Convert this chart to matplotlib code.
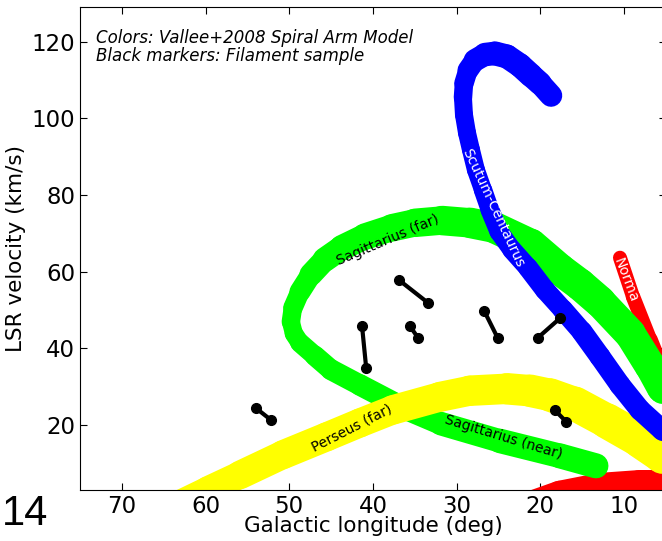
import matplotlib
matplotlib.use("Agg")
import matplotlib.pyplot as plt
from matplotlib.collections import LineCollection

# spiral arm tracks (longitude deg, LSR velocity km/s)
ScutumL = [18.72, 20.04, 21.12, 22.43, 23.98, 25.42, 26.61, 27.81, 28.64, 29.12, 29.24, 29.12, 28.76, 28.29,
           27.69, 26.85, 26.02, 24.94, 23.39, 21.47, 19.44, 17.29, 15.02, 12.87, 10.48, 8.09, 5.46, 2.11]
ScutumV = [105.9, 109.1, 111.2, 113.8, 116.1, 116.9, 116.6, 115.1, 112.5, 109.1, 105.4, 100.9, 96.2, 91.8,
           86.5, 81.3, 76.1, 70.4, 65.7, 61.0, 55.2, 50.0, 44.3, 37.8, 30.4, 23.9, 18.7, 13.0]

SagittariusL = [0.92, 5.46, 6.89, 9.28, 12.87, 15.26, 17.65, 21.12, 25.42, 28.41, 31.75, 34.98, 37.73, 40.96, 43.70,
                45.74, 47.41, 48.72, 49.56, 49.80, 49.44, 48.72, 46.93, 45.02, 41.55, 36.29, 31.87, 24.82, 17.65, 13.35]
SagittariusV = [16.1, 29.7, 35.4, 43.8, 52.1, 56.6, 60.5, 67.0, 71.4, 72.7, 73.3, 72.7, 71.4, 69.1, 66.2,
                63.1, 59.2, 54.7, 50.5, 46.9, 43.8, 41.4, 38.0, 34.4, 30.4, 24.4, 20.3, 15.8, 11.9, 9.3]

PerseusL = [63.42, 59.72, 55.89, 50.75, 45.50, 41.55, 37.61, 31.99, 28.41, 23.98, 21.23, 18.84, 15.86, 12.03, 8.09, 5.46, 2.11]
PerseusV = [-0.9, 3.0, 6.9, 12.2, 16.9, 20.5, 23.9, 27.3, 28.9, 29.4, 28.9, 27.8, 25.5, 21.0, 16.1, 12.2, 6.9]

NormaL = [10.48, 8.92, 6.89, 5.22, 2.11]
NormaV = [63.6, 53.4, 42.2, 33.1, 16.1]

InnerL = [22.43, 17.65, 12.87, 8.09, 3.3]
InnerV = [-2.2, 1.5, 3.55, 4.3, 4.3]

# filament sample: start and end of each filament
FilamentL = [(54.0, 52.2), (36.9, 33.4), (41.3, 40.8), (35.6, 34.6), (26.7, 25.1), (20.3, 17.6), (18.3, 16.9)]
FilamentV = [(24.4, 21.3), (57.8, 51.8), (45.8, 34.8), (45.8, 42.7), (49.7, 42.7), (42.7, 47.9), (23.9, 20.8)]


def DrawArm(ax, l, v, widths, color):
    """Draw an arm as a band whose width (in pixels) changes along its length."""
    points = list(zip(l, v))
    segments = [[points[i], points[i + 1]] for i in range(len(points) - 1)]
    lw = [0.72 * (widths[i] + widths[i + 1]) / 2 for i in range(len(points) - 1)]
    band = LineCollection(segments, colors=color, linewidths=lw, capstyle="round", joinstyle="round")
    ax.add_collection(band)


Figure = plt.figure(figsize=(6.62, 5.41), dpi=100)
ax = Figure.add_axes([0.1208, 0.0943, 0.885, 0.8927])

DrawArm(ax, InnerL, InnerV, [30] * len(InnerL), "#ff0000")
DrawArm(ax, NormaL, NormaV, [14, 14, 15, 16, 17], "#ff0000")
DrawArm(ax, SagittariusL, SagittariusV,
        [30, 30, 31, 31, 32, 32, 32, 32, 31, 30, 29, 28, 27, 26, 25,
         24, 22, 20, 19, 18, 18, 19, 20, 21, 21, 22, 23, 24, 25, 25], "#00ff00")
DrawArm(ax, PerseusL, PerseusV, [27, 27, 28, 29, 29, 29, 29, 30, 30, 31, 32, 33, 34, 35, 36, 37, 37], "#ffff00")
DrawArm(ax, ScutumL, ScutumV,
        [22, 23, 24, 24, 24, 24, 23, 22, 20, 19, 18, 18, 18, 18,
         18, 18, 19, 19, 19, 20, 20, 20, 21, 21, 21, 21, 21, 21], "#0000ff")

for l, v in zip(FilamentL, FilamentV):
    ax.plot(l, v, color="black", lw=3, marker="o", markersize=7)

ax.text(38.2, 68.2, "Sagittarius (far)", rotation=23, fontsize=10, ha="center", va="center")
ax.text(42.5, 19.2, "Perseus (far)", rotation=27, fontsize=10, ha="center", va="center")
ax.text(24.4, 16.9, "Sagittarius (near)", rotation=-17, fontsize=10, ha="center", va="center")
ax.text(25.7, 76.5, "Scutum-Centaurus", rotation=-65, fontsize=10, color="white", ha="center", va="center")
ax.text(9.8, 57.8, "Norma", rotation=-69, fontsize=10, color="white", ha="center", va="center")

ax.text(0.027, 0.955, "Colors: Vallee+2008 Spiral Arm Model\nBlack markers: Filament sample",
        transform=ax.transAxes, fontsize=12, style="italic", va="top", ha="left", linespacing=1.0)

ax.set_xlim(75, 5)
ax.set_ylim(3, 129)
ax.set_xticks([70, 60, 50, 40, 30, 20, 10])
ax.set_yticks([20, 40, 60, 80, 100, 120])
ax.tick_params(direction="in", top=True, right=True, labelsize=16.5, length=5)
ax.set_xlabel("Galactic longitude (deg)", fontsize=15.5, labelpad=-1)
ax.set_ylabel("LSR velocity (km/s)", fontsize=15.5, labelpad=4)

Figure.text(0.003, 0.03, "14", fontsize=30, family=["Liberation Sans", "DejaVu Sans"],
            ha="left", va="baseline")

Figure.savefig("out.png", dpi=100)
